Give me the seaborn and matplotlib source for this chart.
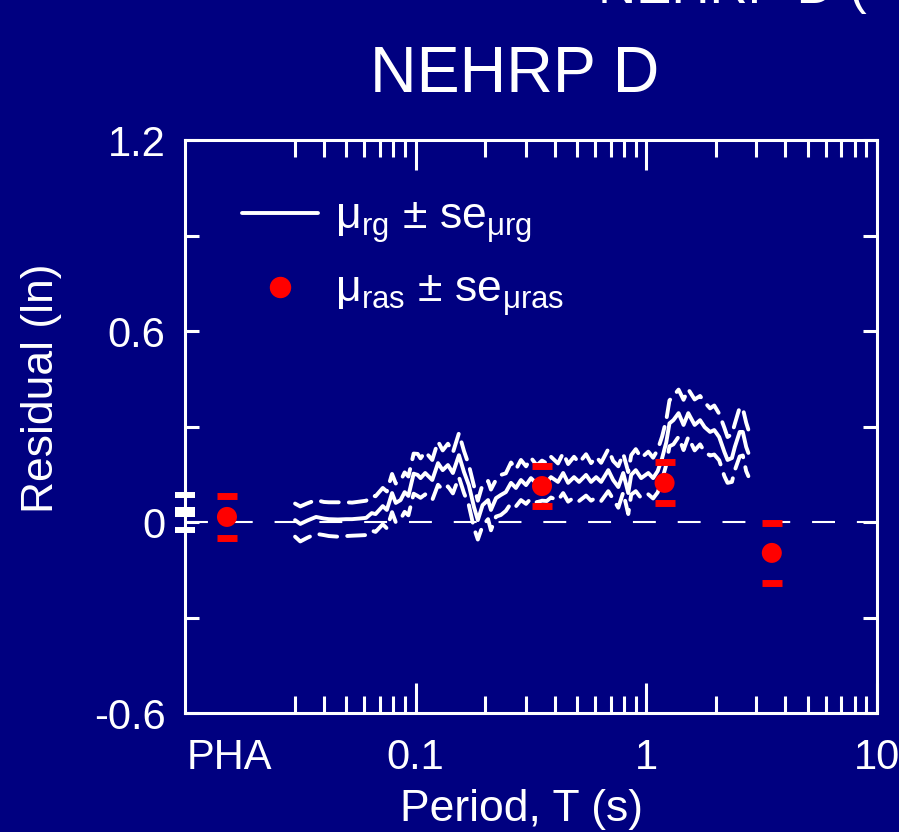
import numpy as np
import pandas as pd
import matplotlib
matplotlib.use("Agg")
import matplotlib.pyplot as plt
from matplotlib.lines import Line2D
import seaborn as sns

# ---------------- data ----------------
periods = [0.030, 0.0316, 0.034, 0.037, 0.040, 0.042, 0.046, 0.050, 0.053, 0.057,
           0.061, 0.0645, 0.067, 0.072, 0.075, 0.079, 0.082, 0.086, 0.0896, 0.093,
           0.098, 0.102, 0.105, 0.110, 0.118, 0.125, 0.131, 0.138, 0.145, 0.154,
           0.162, 0.170, 0.179, 0.186, 0.195, 0.206, 0.212, 0.223, 0.234, 0.246,
           0.259, 0.272, 0.286, 0.301, 0.316, 0.335, 0.353, 0.370, 0.386, 0.414,
           0.436, 0.458, 0.486, 0.511, 0.548, 0.576, 0.606, 0.637, 0.684, 0.718,
           0.756, 0.794, 0.835, 0.860, 0.900, 0.950, 1.02, 1.07, 1.12, 1.17,
           1.22, 1.26, 1.31, 1.38, 1.45, 1.52, 1.62, 1.71, 1.79, 1.89,
           1.97, 2.07, 2.18, 2.25, 2.35, 2.42, 2.54, 2.62, 2.71, 2.77]

mu_rg = [0.006, -0.006, 0.005, 0.016, 0.011, 0.009, 0.008, 0.009, 0.009, 0.011,
         0.013, 0.028, 0.025, 0.050, 0.038, 0.091, 0.060, 0.069, 0.094, 0.082,
         0.152, 0.148, 0.138, 0.154, 0.132, 0.185, 0.163, 0.179, 0.154, 0.210,
         0.157, 0.116, 0.047, 0.006, 0.053, 0.069, 0.038, 0.075, 0.085, 0.094,
         0.123, 0.107, 0.132, 0.116, 0.138, 0.120, 0.130, 0.125, 0.141, 0.126,
         0.154, 0.123, 0.141, 0.126, 0.148, 0.126, 0.141, 0.126, 0.163, 0.132,
         0.110, 0.154, 0.091, 0.148, 0.163, 0.138, 0.154, 0.138, 0.160, 0.200,
         0.250, 0.310, 0.320, 0.342, 0.305, 0.342, 0.305, 0.320, 0.298, 0.283,
         0.289, 0.267, 0.220, 0.195, 0.201, 0.236, 0.283, 0.283, 0.236, 0.217]

se_rg = [0.052, 0.055, 0.054, 0.053, 0.052, 0.053, 0.054, 0.053, 0.052, 0.053,
         0.054, 0.055, 0.056, 0.057, 0.058, 0.060, 0.061, 0.060, 0.062, 0.061,
         0.063, 0.066, 0.062, 0.067, 0.063, 0.068, 0.062, 0.067, 0.064, 0.069,
         0.066, 0.063, 0.066, 0.061, 0.065, 0.060, 0.064, 0.058, 0.063, 0.059,
         0.064, 0.058, 0.063, 0.059, 0.064, 0.058, 0.063, 0.059, 0.064, 0.058,
         0.063, 0.059, 0.064, 0.060, 0.065, 0.059, 0.064, 0.060, 0.066, 0.060,
         0.065, 0.061, 0.066, 0.062, 0.066, 0.063, 0.067, 0.064, 0.067, 0.068,
         0.070, 0.072, 0.076, 0.074, 0.079, 0.075, 0.080, 0.076, 0.078, 0.074,
         0.077, 0.073, 0.076, 0.072, 0.075, 0.073, 0.077, 0.074, 0.076, 0.073]

# PHA value of the rg series (drawn on the left frame)
pha_rg_period = [0.01]
pha_rg_mu = [0.031]
pha_rg_se = [0.055]

ras_periods = [0.0152, 0.353, 1.2, 3.5]
mu_ras = [0.016, 0.113, 0.123, -0.097]
se_ras = [0.065, 0.062, 0.064, 0.095]

major_ticks = [0.0155, 0.1, 1, 10]
major_labels = ["PHA", "0.1", "1", "10"]
minor_ticks = [0.03, 0.04, 0.05, 0.06, 0.07, 0.08, 0.09,
               0.2, 0.3, 0.4, 0.5, 0.6, 0.7, 0.8, 0.9,
               2, 3, 4, 5, 6, 7, 8, 9]
y_ticks = [-0.6, -0.3, 0, 0.3, 0.6, 0.9, 1.2]
y_labels = ["-0.6", "", "0", "", "0.6", "", "1.2"]

title = "NEHRP D"
x_label = "Period, T (s)"
y_label = "Residual (ln)"
leg_rg = r"$μ_{rg}$ ± $se_{μrg}$"
leg_ras = r"$μ_{ras}$ ± $se_{μras}$"

# ---------------- style ----------------
NAVY = "#000080"
sns.set_theme(style="ticks")
plt.rcParams["font.family"] = ["Liberation Sans", "DejaVu Sans"]
plt.rcParams["mathtext.fontset"] = "custom"
plt.rcParams["mathtext.rm"] = "Liberation Sans"
plt.rcParams["mathtext.it"] = "Liberation Sans"
plt.rcParams["mathtext.default"] = "regular"

fig = plt.figure(figsize=(8.99, 8.32), dpi=100, facecolor=NAVY)
ax = fig.add_axes([0.2058, 0.143, 0.7697, 0.6887], facecolor=NAVY)

df = pd.DataFrame({"T": periods, "mu": mu_rg, "se": se_rg})
df["up"] = df["mu"] + df["se"]
df["lo"] = df["mu"] - df["se"]

ax.axhline(0, color="white", lw=1.5, linestyle=(0, (11, 10.5)), zorder=1)

sns.lineplot(data=df, x="T", y="mu", ax=ax, color="white", lw=2.8,
             sort=False, zorder=3, solid_capstyle="round", solid_joinstyle="round")
for col in ["up", "lo"]:
    sns.lineplot(data=df, x="T", y=col, ax=ax, color="white", lw=2.8,
                 sort=False, zorder=3, linestyle=(0, (4.6, 2.6)),
                 dash_capstyle="round", dash_joinstyle="round")

# PHA rg marker + caps on the left frame
pr = np.array(pha_rg_mu); ps = np.array(pha_rg_se)
ax.plot(pha_rg_period, pr, marker="_", ms=13.7, mew=7.2, color="white",
        ls="none", clip_on=False, zorder=6)
ax.plot(pha_rg_period * 2, np.concatenate([pr + ps, pr - ps]), marker="_",
        ms=13.7, mew=4.3, color="white", ls="none", clip_on=False, zorder=6)

# red points with caps
rm = np.array(mu_ras); rs = np.array(se_ras)
sns.scatterplot(x=ras_periods, y=mu_ras, ax=ax, color="red", s=14.4**2,
                edgecolor="none", zorder=7)
ax.plot(ras_periods * 2, np.concatenate([rm + rs, rm - rs]), marker="_",
        ms=14.4, mew=5.0, color="red", ls="none", zorder=7, clip_on=False)

ax.set_xscale("log")
ax.set_xlim(0.01, 10)
ax.set_ylim(-0.6, 1.2)
ax.set_xticks(major_ticks)
ax.set_xticklabels(major_labels)
ax.set_xticks(minor_ticks, minor=True)
ax.set_xticklabels([""] * len(minor_ticks), minor=True)
ax.set_yticks(y_ticks)
ax.set_yticklabels(y_labels)

ax.tick_params(axis="x", which="major", direction="in", length=21.6, width=2.2,
               top=True, bottom=True, colors="white", labelsize=30, pad=18)
ax.tick_params(axis="x", which="minor", direction="in", length=12.5, width=2.2,
               top=True, bottom=True, colors="white")
ax.tick_params(axis="y", which="major", direction="in", length=10, width=2.2,
               left=True, right=True, colors="white", labelsize=30, pad=14)
for s in ax.spines.values():
    s.set_color("white")
    s.set_linewidth(2.2)
    s.set_visible(True)

ax.set_xlabel(x_label, color="white", fontsize=32)
ax.set_ylabel(y_label, color="white", fontsize=32)
ax.xaxis.set_label_coords(0.487, -0.132)
ax.yaxis.set_label_coords(-0.178, 0.567)

handles = [Line2D([], [], color="white", lw=2.8),
           Line2D([], [], color="red", marker="o", ls="none", ms=14.4)]
leg = ax.legend(handles, [leg_rg, leg_ras], loc="upper left",
                bbox_to_anchor=(0.082, 0.901), frameon=False, fontsize=32,
                handlelength=1.71, handletextpad=0.38, labelspacing=0.58,
                borderpad=0, borderaxespad=0)
for t in leg.get_texts():
    t.set_color("white")

fig.text(515 / 899, 1 - 75 / 832, title, color="white", fontsize=46.5,
         ha="center", va="center")
# top of a neighbouring title, cut off by the figure edge as in the reference
fig.text(598 / 899, 1 - 3 / 832, "NEHRP D (", color="white", fontsize=38,
         ha="left", va="baseline")

# the PHA position carries a label but no tick mark
fig.canvas.draw()
pha_tick = ax.xaxis.get_major_ticks()[0]
pha_tick.tick1line.set_visible(False)
pha_tick.tick2line.set_visible(False)

fig.savefig("out.png", dpi=100, facecolor=NAVY)
